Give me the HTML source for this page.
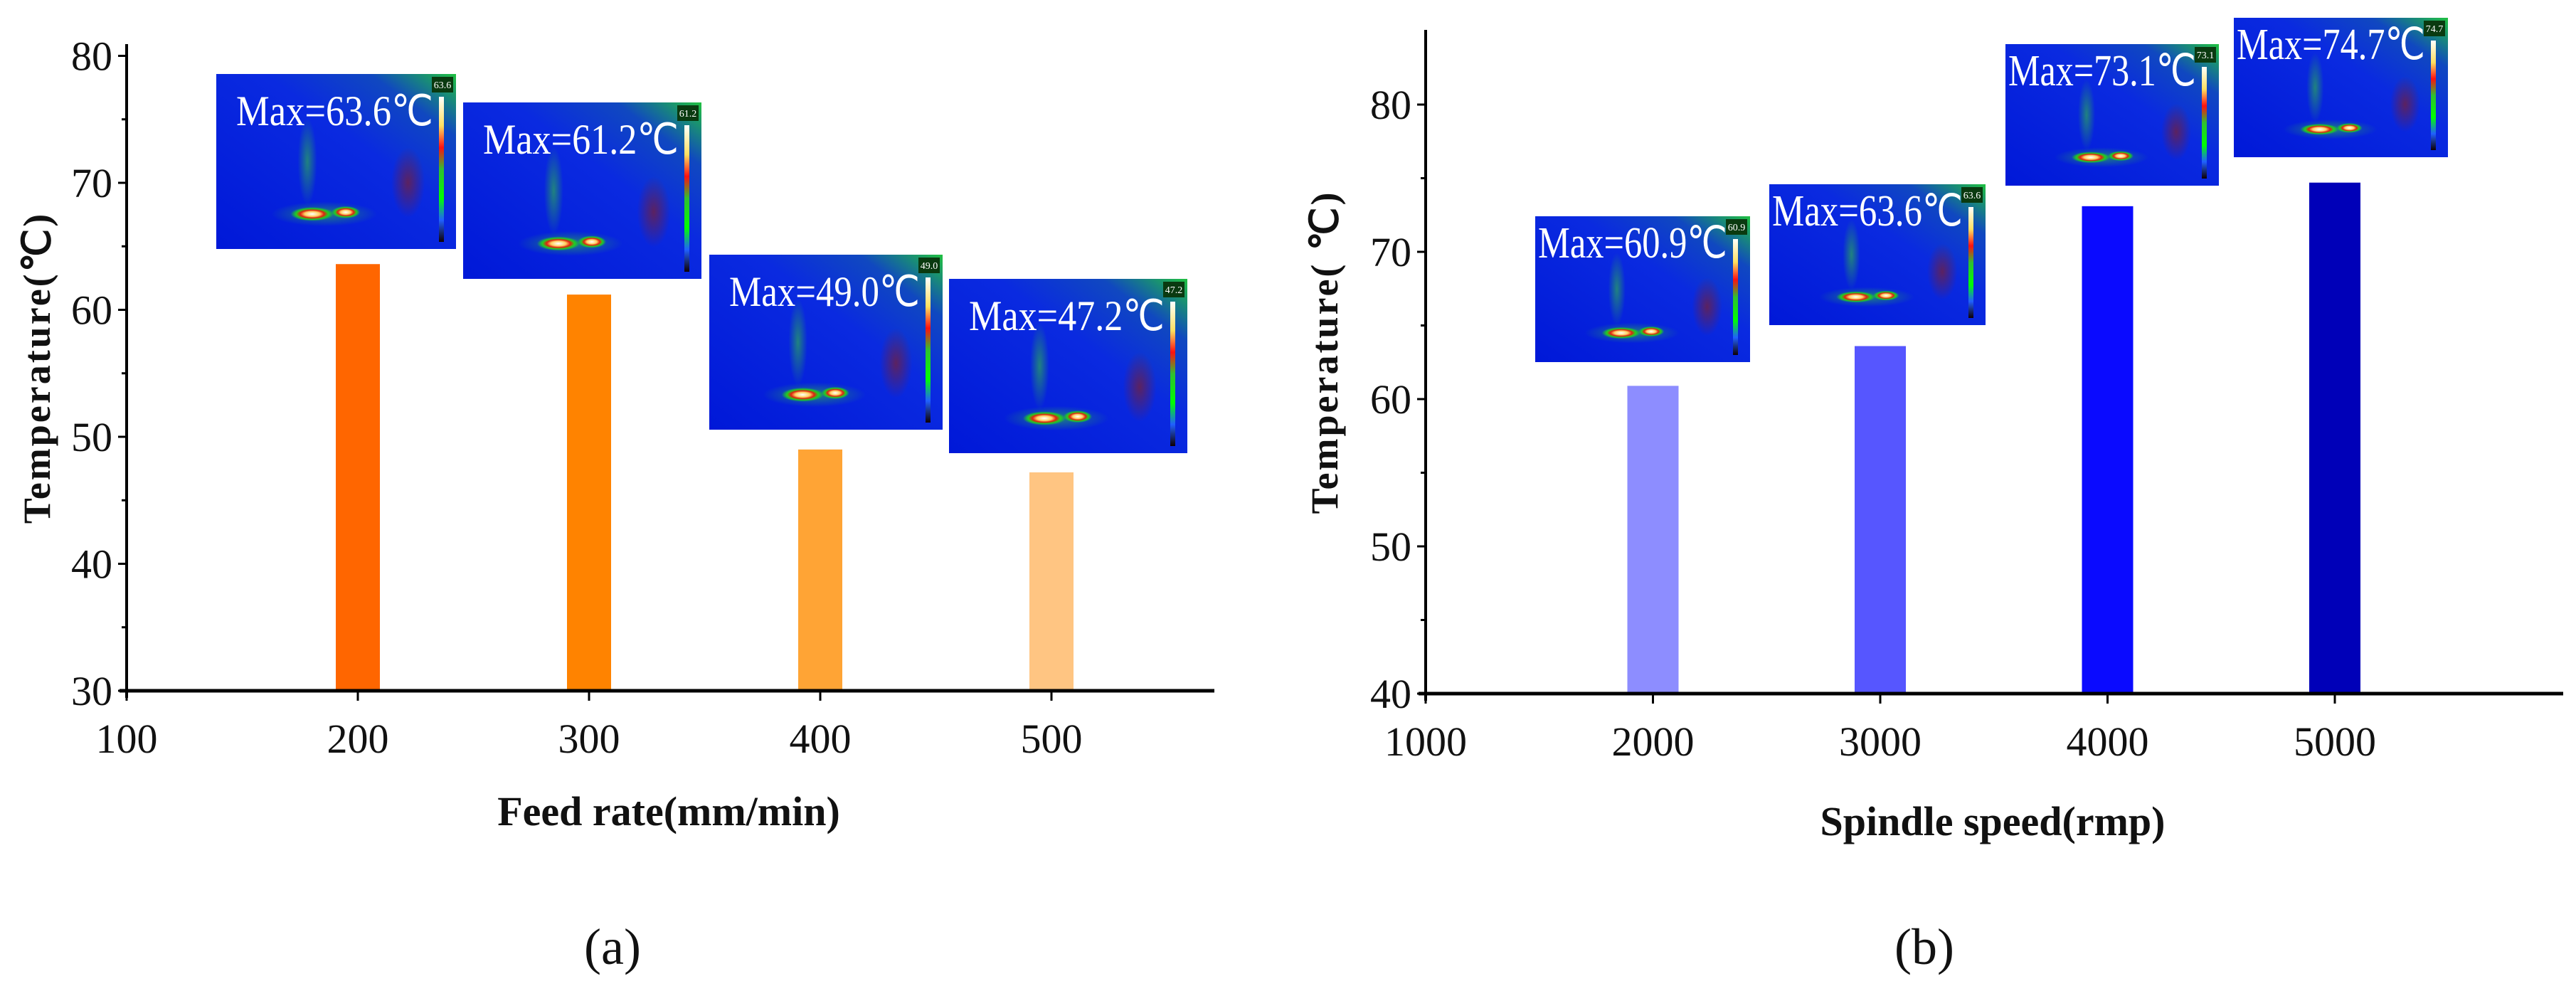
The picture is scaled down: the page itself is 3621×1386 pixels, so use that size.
<!DOCTYPE html>
<html><head><meta charset="utf-8"><style>
html,body{margin:0;padding:0;background:#fff;width:3621px;height:1386px;overflow:hidden}
svg{display:block}
text{font-family:"Liberation Serif",serif}
</style></head><body>
<svg id="fig" width="3621" height="1386" viewBox="0 0 3621 1386" xmlns="http://www.w3.org/2000/svg">
<defs>
<linearGradient id="cbar" x1="0" y1="0" x2="0" y2="1">
<stop offset="0" stop-color="#ffffff"/><stop offset="0.2" stop-color="#ffe060"/><stop offset="0.35" stop-color="#ff1010"/><stop offset="0.5" stop-color="#30c030"/><stop offset="0.7" stop-color="#00ff00"/><stop offset="0.85" stop-color="#2060ff"/><stop offset="1" stop-color="#100000"/>
</linearGradient>
<linearGradient id="bgth" x1="0" y1="1" x2="1" y2="0">
<stop offset="0" stop-color="#0018d8"/><stop offset="0.6" stop-color="#0a2ae0"/><stop offset="0.82" stop-color="#1048c0"/><stop offset="1" stop-color="#20c040"/>
</linearGradient>
<radialGradient id="hot"><stop offset="0" stop-color="#ffffff"/><stop offset="0.35" stop-color="#ffd060"/><stop offset="0.55" stop-color="#e02010"/><stop offset="0.75" stop-color="#20d020"/><stop offset="1" stop-color="#20d020" stop-opacity="0"/></radialGradient>
<radialGradient id="glow"><stop offset="0" stop-color="#30c040" stop-opacity="0.6"/><stop offset="1" stop-color="#30c040" stop-opacity="0"/></radialGradient>
<radialGradient id="dark"><stop offset="0" stop-color="#702040" stop-opacity="0.8"/><stop offset="1" stop-color="#702040" stop-opacity="0"/></radialGradient>
</defs>
<g id="chartA"></g>
<g id="chartB"></g>
</svg>
<script>
// ---- Chart (a) data ----
const catsA = [200, 300, 400, 500];
const valsA = [63.6, 61.2, 49.0, 47.2];
const xTicksA = [100, 200, 300, 400, 500];
const yTicksA = [30, 40, 50, 60, 70, 80];
const colorsA = ['#ff6600', '#ff8300', '#ffa435', '#ffc582'];
// ---- Chart (b) data ----
const catsB = [2000, 3000, 4000, 5000];
const valsB = [60.9, 63.6, 73.1, 74.7];
const xTicksB = [1000, 2000, 3000, 4000, 5000];
const yTicksB = [40, 50, 60, 70, 80];
const colorsB = ['#8d8dff', '#5656ff', '#0a0aff', '#0000b8'];

const NS = 'http://www.w3.org/2000/svg';
function mk(tag, attrs, parent, txt){
  const e = document.createElementNS(NS, tag);
  for (const k in attrs) e.setAttribute(k, attrs[k]);
  if (txt !== undefined) e.textContent = txt;
  parent.appendChild(e);
  return e;
}

function thermal(g, x, y, w, h, val, lx, ly, fs){
  const t = mk('g', {}, g);
  
  
  mk('rect', {x:x, y:y, width:w, height:h, fill:'url(#bgth)'}, t);
  mk('ellipse', {cx:x+w*0.8, cy:y+h*0.62, rx:w*0.07, ry:h*0.2, fill:'url(#dark)'}, t);
  mk('ellipse', {cx:x+w*0.38, cy:y+h*0.5, rx:w*0.04, ry:h*0.25, fill:'url(#glow)'}, t);
  mk('ellipse', {cx:x+w*0.45, cy:y+h*0.8, rx:w*0.22, ry:h*0.07, fill:'url(#glow)'}, t);
  mk('ellipse', {cx:x+w*0.4, cy:y+h*0.8, rx:w*0.09, ry:h*0.04, fill:'url(#hot)'}, t);
  mk('ellipse', {cx:x+w*0.54, cy:y+h*0.79, rx:w*0.06, ry:h*0.035, fill:'url(#hot)'}, t);
  mk('rect', {x:x+w-34, y:y+4, width:30, height:22, fill:'#0a3a10'}, t);
  mk('text', {x:x+w-19, y:y+20, 'font-size':14, fill:'#fff', 'text-anchor':'middle'}, t, val.toFixed(1));
  mk('rect', {x:x+w-24, y:y+32, width:7, height:h-42, fill:'url(#cbar)'}, t);
  const lab = mk('text', {x:x+lx, y:y+ly, 'font-size':fs, fill:'#fff', textLength:w-lx-32, lengthAdjust:'spacingAndGlyphs'}, t, 'Max=' + val.toFixed(1) + '\u2103');
  
  
}

function chart(cfg){
  const g = document.getElementById(cfg.id);
  const sx = v => cfg.x0 + (v - cfg.xmin) * cfg.pxX;
  const sy = v => cfg.y0 - (v - cfg.ymin) * cfg.pxY;
  cfg.cats.forEach((c, i) => {
    const b = mk('rect', {x:sx(c) - cfg.bw/2, y:sy(cfg.vals[i]), width:cfg.bw, height:sy(cfg.ymin) - sy(cfg.vals[i]), fill:cfg.colors[i]}, g);
    
    
  });
  const ya = mk('line', {x1:cfg.x0, y1:cfg.ytop, x2:cfg.x0, y2:cfg.y0 + 10, stroke:'#000', 'stroke-width':4}, g);
  
  
  const xa = mk('line', {x1:cfg.x0 - 10, y1:cfg.y0, x2:cfg.xend, y2:cfg.y0, stroke:'#000', 'stroke-width':5}, g);
  
  
  cfg.yTicks.forEach((v, i) => {
    mk('line', {x1:cfg.x0 - 12, y1:sy(v), x2:cfg.x0, y2:sy(v), stroke:'#000', 'stroke-width':3}, g);
    if (i < cfg.yTicks.length - 1) mk('line', {x1:cfg.x0 - 7, y1:sy(v + 5), x2:cfg.x0, y2:sy(v + 5), stroke:'#000', 'stroke-width':3}, g);
    const t = mk('text', {x:cfg.x0 - 20, y:sy(v) + 20, 'font-size':58, 'text-anchor':'end', fill:'#111'}, g, String(v));
    
    
  });
  cfg.xTicks.forEach(v => {
    mk('line', {x1:sx(v), y1:cfg.y0, x2:sx(v), y2:cfg.y0 + 14, stroke:'#000', 'stroke-width':3}, g);
    const t = mk('text', {x:sx(v), y:cfg.y0 + 87, 'font-size':58, 'text-anchor':'middle', fill:'#111'}, g, String(v));
    
    
  });
  cfg.insets.forEach((r, i) => thermal(g, r[0], r[1], r[2], r[3], cfg.vals[i], cfg.lx, cfg.ly, cfg.lfs));
  const xt = mk('text', {x:cfg.xtx, y:cfg.xty, 'font-size':58, 'font-weight':'bold', 'text-anchor':'middle', fill:'#111'}, g, cfg.xTitle);
  
  
  const yt = mk('text', {x:0, y:0, 'font-size':54, 'font-weight':'bold', 'text-anchor':'middle', fill:'#111', 'letter-spacing':3, transform:'translate(' + cfg.ytx + ',' + cfg.yty + ') rotate(-90)'}, g, cfg.yTitle);
  
  
  const pl = mk('text', {x:cfg.plx, y:1355, 'font-size':72, 'text-anchor':'middle', fill:'#111'}, g, cfg.panel);
  
  
}

chart({id:'chartA', cats:catsA, vals:valsA, colors:colorsA, xTicks:xTicksA, yTicks:yTicksA,
  x0:178, y0:971, xmin:100, ymin:30, pxX:3.25, pxY:17.85, bw:62, ytop:62, xend:1707,
  insets:[[304,104,337,246],[651,144,335,248],[997,358,328,246],[1334,392,335,245]],
  lx:28, ly:72, lfs:60,
  xTitle:'Feed rate(mm/min)', xtx:940, xty:1160, yTitle:'Temperature(\u2103)', ytx:70, yty:517, plx:861, panel:'(a)'});
chart({id:'chartB', cats:catsB, vals:valsB, colors:colorsB, xTicks:xTicksB, yTicks:yTicksB,
  x0:2004, y0:975, xmin:1000, ymin:40, pxX:0.3195, pxY:20.7, bw:72, ytop:42, xend:3603,
  insets:[[2158,304,302,205],[2487,259,304,198],[2819,62,300,199],[3140,25,301,196]],
  lx:4, ly:58, lfs:62,
  xTitle:'Spindle speed(rmp)', xtx:2801, xty:1174, yTitle:'Temperature( \u2103)', ytx:1880, yty:495, plx:2705, panel:'(b)'});
</script>
</body></html>
